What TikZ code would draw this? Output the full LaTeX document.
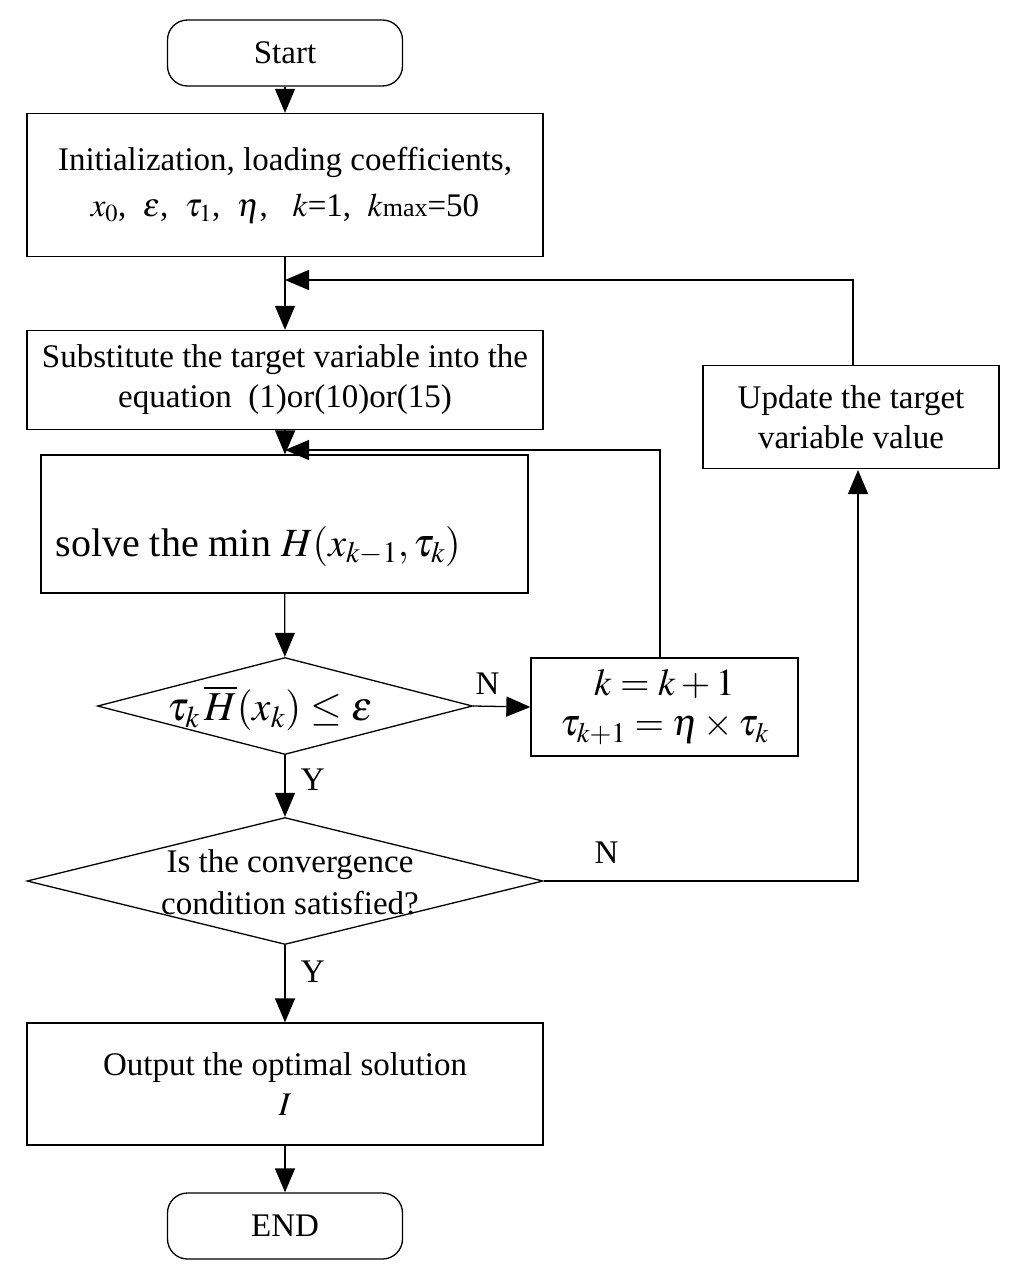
\documentclass[tikz,border=0pt]{standalone}
\usepackage{mathptmx}
\usepackage{fontspec}
\setmainfont{Liberation Serif}
\usetikzlibrary{shapes.geometric,arrows.meta}
\begin{document}
\begin{tikzpicture}[x=1pt,y=-1pt,
  every node/.style={font=\fontsize{33}{40}\selectfont},
  box/.style={draw,line width=1.3pt,minimum width=#1,align=center,inner sep=0pt},
  term/.style={draw,line width=1.3pt,rounded corners=20pt,minimum width=235pt,minimum height=66pt},
  dia/.style={draw,line width=1.3pt,diamond,aspect=#1,inner sep=0pt},
  arr/.style={line width=1.3pt,-{Triangle[length=24pt,width=20pt]}},
  ln/.style={line width=1.3pt}]
\useasboundingbox (0,0) rectangle (1016,1272);
\node[term] (start) at (285,53) {Start};
\node[box=516pt,minimum height=143pt] (init) at (285,185) {Initialization, loading coefficients,\\[6pt] $x_0$,\ \ $\varepsilon$,\ \ $\tau_1$,\ \ $\eta$,\ \ \ $k$=1,\ \ $k${\fontsize{26}{30}\selectfont max}=50};
\node[box=516pt,minimum height=99pt] (sub) at (285,380) {Substitute the target variable into the\\ equation\ \ (1)or(10)or(15)};
\node[box=487pt,minimum height=138pt] (solve) at (284.5,524) {};
\node[anchor=west,font=\fontsize{40}{46}\selectfont] (solvet) at (52,546) {solve the min $H(x_{k-1},\tau_k)$};
\node[dia=3.87,minimum width=375pt,minimum height=97pt] (d1) at (285,706) {};
\node[font=\fontsize{41}{46}\selectfont] (d1t) at (270,708) {$\tau_k\,\overline{H}(x_k)\le\varepsilon$};
\node[box=267pt,minimum height=98pt,font=\fontsize{38}{40}\selectfont] (kb) at (664.5,707) {$k=k+1$\\ $\tau_{k+1}=\eta\times\tau_k$};
\node[dia=4.06,minimum width=516pt,minimum height=127pt] (d2) at (285,881) {};
\node[align=center] (d2t) at (290,882) {Is the convergence\\[2pt] condition satisfied?};
\node[box=296pt,minimum height=103pt] (upd) at (851,417) {Update the target\\ variable value};
\node[box=516pt,minimum height=122pt] (out) at (285,1084) {Output the optimal solution\\ $I$};
\node[term] (end) at (285,1226) {END};
\coordinate (m1) at (285,280);
\coordinate (m2) at (285,450);
\draw[arr] (start) -- (init);
\draw[ln] (init) -- (m1);
\draw[arr] (m1) -- (sub);
\draw[ln] (sub) -- (m2);
\draw[arr] (m2) -- (solve);
\draw[arr] (solve) -- (d1);
\draw[arr] (d1) -- (d2) node[pos=0.4,right=12pt] {Y};
\draw[arr] (d1.east) -- (kb.west) node[pos=0.25,above=8pt] {N};
\draw[arr] (kb.north -| 660,0) |- (m2);
\draw[arr] (d2.east) -| (858,470) node[pos=0.1,above=14pt] {N};
\draw[arr] (upd.north -| 853,0) |- (m1);
\draw[arr] (d2) -- (out) node[pos=0.35,right=12pt] {Y};
\draw[arr] (out) -- (end);
\end{tikzpicture}
\end{document}
